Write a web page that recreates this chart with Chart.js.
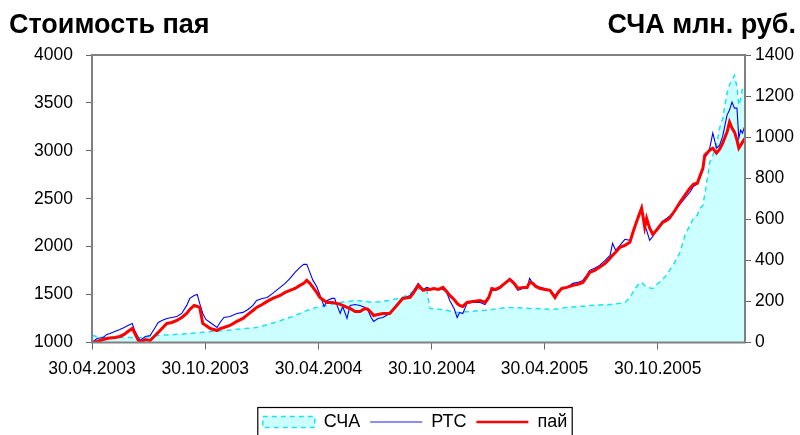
<!DOCTYPE html>
<html><head><meta charset="utf-8">
<script src="https://cdn.jsdelivr.net/npm/chart.js@4.4.1/dist/chart.umd.min.js"></script>
<style>html,body{margin:0;padding:0;background:#fff}</style>
</head><body>
<canvas id="c" width="800" height="435"></canvas>
<script>
const leftTitle = 'Стоимость пая';
const rightTitle = 'СЧА млн. руб.';
const seriesNames = ['СЧА', 'РТС', 'пай'];
const xTickLabels = ['30.04.2003','30.10.2003','30.04.2004','30.10.2004','30.04.2005','30.10.2005'];

const dates = [
'30.04.2003','08.05.2003','18.05.2003','24.05.2003','29.05.2003','06.06.2003','14.06.2003','21.06.2003','27.06.2003','04.07.2003',
'08.07.2003','13.07.2003','17.07.2003','25.07.2003','02.08.2003','10.08.2003','15.08.2003','21.08.2003','29.08.2003','06.09.2003',
'14.09.2003','22.09.2003','30.09.2003','05.10.2003','12.10.2003','17.10.2003','21.10.2003','26.10.2003','31.10.2003','07.11.2003',
'18.11.2003','23.11.2003','29.11.2003','09.12.2003','20.12.2003','30.12.2003','07.01.2004','15.01.2004','21.01.2004','30.01.2004',
'07.02.2004','16.02.2004','28.02.2004','07.03.2004','15.03.2004','23.03.2004','31.03.2004','06.04.2004','11.04.2004','16.04.2004',
'21.04.2004','27.04.2004','02.05.2004','09.05.2004','14.05.2004','22.05.2004','26.05.2004','30.05.2004','04.06.2004','08.06.2004',
'15.06.2004','20.06.2004','28.06.2004','06.07.2004','14.07.2004','19.07.2004','24.07.2004','28.07.2004','04.08.2004','12.08.2004',
'23.08.2004','02.09.2004','13.09.2004','25.09.2004','01.10.2004','08.10.2004','16.10.2004','22.10.2004','27.10.2004','02.11.2004',
'10.11.2004','17.11.2004','23.11.2004','28.11.2004','05.12.2004','10.12.2004','14.12.2004','19.12.2004','26.12.2004','04.01.2005',
'16.01.2005','24.01.2005','30.01.2005','04.02.2005','10.02.2005','17.02.2005','25.02.2005','05.03.2005','12.03.2005','18.03.2005',
'26.03.2005','02.04.2005','06.04.2005','11.04.2005','16.04.2005','23.04.2005','01.05.2005','09.05.2005','17.05.2005','22.05.2005',
'28.05.2005','05.06.2005','15.06.2005','23.06.2005','01.07.2005','07.07.2005','12.07.2005','20.07.2005','28.07.2005','06.08.2005',
'14.08.2005','18.08.2005','23.08.2005','30.08.2005','07.09.2005','15.09.2005','20.09.2005','25.09.2005','29.09.2005','04.10.2005',
'09.10.2005','12.10.2005','17.10.2005','22.10.2005','28.10.2005','02.11.2005','07.11.2005','14.11.2005','18.11.2005','27.11.2005',
'05.12.2005','13.12.2005','21.12.2005','27.12.2005','02.01.2006','06.01.2006','11.01.2006','14.01.2006','19.01.2006','22.01.2006',
'27.01.2006','02.02.2006','07.02.2006','12.02.2006','19.02.2006','23.02.2006','27.02.2006','03.03.2006','07.03.2006','10.03.2006',
'13.03.2006','16.03.2006','20.03.2006'
];

const paiValues = [
1000,1010,1031,1042,1046,1052,1063,1084,1115,1146,
1099,1031,1000,1031,1021,1073,1105,1146,1199,1209,
1230,1261,1303,1345,1387,1376,1366,1199,1178,1146,
1125,1146,1157,1178,1220,1251,1293,1334,1366,1397,
1429,1460,1491,1523,1544,1564,1596,1617,1648,1617,
1575,1523,1470,1439,1418,1418,1412,1408,1397,1387,
1366,1355,1324,1324,1355,1345,1314,1282,1293,1303,
1303,1376,1460,1470,1523,1596,1544,1554,1554,1564,
1554,1575,1533,1491,1449,1408,1387,1376,1418,1429,
1439,1418,1470,1564,1554,1575,1617,1658,1617,1564,
1575,1575,1627,1617,1585,1564,1554,1544,1470,1523,
1564,1575,1596,1606,1627,1679,1732,1753,1784,1826,
1878,1909,1941,1993,2014,2045,2150,2244,2317,2401,
2202,2296,2192,2129,2171,2213,2254,2275,2296,2380,
2463,2537,2610,2652,2662,2735,2819,2955,2986,3007,
3028,2976,3017,3080,3195,3300,3237,3195,3112,3028,
3059,3091,3132
];

const rtsValues = [
1000,1042,1052,1084,1094,1115,1136,1157,1178,1199,
1125,1063,1021,1063,1073,1157,1209,1230,1251,1261,
1272,1303,1387,1460,1491,1502,1408,1303,1240,1209,
1157,1209,1261,1272,1303,1314,1345,1387,1439,1460,
1470,1512,1575,1617,1669,1732,1784,1815,1815,1732,
1648,1585,1502,1376,1439,1460,1460,1387,1303,1376,
1251,1387,1397,1387,1366,1334,1261,1220,1251,1261,
1303,1387,1460,1491,1544,1617,1554,1575,1564,1564,
1564,1554,1523,1439,1355,1261,1314,1303,1408,1418,
1418,1397,1460,1544,1544,1564,1617,1669,1606,1544,
1564,1564,1669,1617,1596,1575,1564,1544,1491,1512,
1564,1575,1617,1627,1648,1700,1753,1774,1805,1857,
1909,2035,1962,2014,2077,2066,2150,2244,2328,2422,
2223,2171,2066,2108,2171,2223,2265,2296,2317,2380,
2443,2505,2568,2631,2652,2714,2798,2923,2976,3028,
3185,3028,3059,3153,3373,3425,3509,3446,3446,3132,
3216,3185,3268
];

const schaValues = [
34,29,24,24,24,24,24,24,24,24,
24,24,24,27,29,33,34,36,37,38,
40,41,43,44,46,47,48,50,51,53,
56,57,59,61,64,67,69,71,73,80,
87,95,106,115,122,132,141,150,156,160,
165,171,174,179,182,187,190,192,195,197,
199,201,204,203,200,198,196,196,198,201,
205,212,220,239,249,259,268,254,166,164,
162,161,157,153,148,146,147,149,150,152,
155,157,160,161,163,166,170,170,169,169,
168,167,166,166,165,164,163,161,162,164,
167,171,173,175,177,178,180,181,183,184,
185,187,189,191,194,220,244,268,285,293,
278,268,266,263,281,294,307,332,351,393,
439,522,571,607,620,652,668,722,815,878,
912,961,1044,1090,1215,1254,1278,1300,1244,1156,
1185,1239,1229
];

const FONT = '"Liberation Sans", Arial, sans-serif';
function toDay(s) {
  const p = s.split('.').map(Number);
  return (Date.UTC(p[2], p[1] - 1, p[0]) - Date.UTC(2003, 3, 30)) / 86400000;
}
const xDays = dates.map(toDay);
const tickDays = xTickLabels.map(toDay);
const pts = vals => vals.map((v, i) => ({ x: xDays[i], y: v }));

const decorPlugin = {
  id: 'decor',
  afterDatasetsDraw(chart) {
    const { ctx, chartArea: a } = chart;
    ctx.save();
    ctx.strokeStyle = '#808080';
    ctx.lineWidth = 2;
    ctx.strokeRect(a.left, a.top, a.right - a.left, a.bottom - a.top);
    ctx.restore();
  },
  afterDraw(chart) {
    const ctx = chart.ctx;
    ctx.save();
    ctx.fillStyle = '#000';
    ctx.font = 'bold 27px ' + FONT;
    ctx.textBaseline = 'alphabetic';
    ctx.textAlign = 'left';
    ctx.fillText(leftTitle, 9, 33);
    ctx.textAlign = 'right';
    ctx.fillText(rightTitle, 796, 33);
    const lg = chart.legend;
    if (lg && lg.legendHitBoxes && lg.legendHitBoxes.length) {
      const hb = lg.legendHitBoxes;
      const l = Math.min(...hb.map(b => b.left)) - 5;
      const r = Math.max(...hb.map(b => b.left + b.width)) + 5;
      ctx.strokeStyle = '#000';
      ctx.lineWidth = 1.2;
      ctx.strokeRect(l, lg.top + 4.5, r - l, 40);
    }
    ctx.restore();
  }
};

new Chart(document.getElementById('c'), {
  type: 'line',
  data: {
    datasets: [
      { label: seriesNames[0], data: pts(schaValues), yAxisID: 'y1', borderColor: '#19E3F0', backgroundColor: '#CCFFFF',
        fill: 'origin', borderWidth: 1.5, borderDash: [5, 4], pointRadius: 0, tension: 0, order: 3 },
      { label: seriesNames[1], data: pts(rtsValues), yAxisID: 'y', borderColor: '#0000FF', backgroundColor: '#0000FF',
        fill: false, borderWidth: 1.1, pointRadius: 0, tension: 0, order: 2 },
      { label: seriesNames[2], data: pts(paiValues), yAxisID: 'y', borderColor: '#FF0000', backgroundColor: '#FF0000',
        fill: false, borderWidth: 3, pointRadius: 0, tension: 0, order: 1 }
    ]
  },
  options: {
    responsive: false,
    animation: false,
    devicePixelRatio: 1,
    layout: { padding: { left: 30, right: 0, top: 55, bottom: -6 } },
    plugins: {
      tooltip: { enabled: false },
      title: { display: false },
      legend: {
        display: true,
        position: 'bottom',
        labels: {
          usePointStyle: true,
          pointStyleWidth: 52,
          boxHeight: 11,
          padding: 10,
          color: '#000',
          font: { family: FONT, size: 18 },
          generateLabels: (chart) => chart.data.datasets.map((ds, i) => ({
            text: ds.label,
            datasetIndex: i,
            fillStyle: i === 0 ? '#CCFFFF' : ds.borderColor,
            strokeStyle: i === 1 ? '#6666FF' : ds.borderColor,
            lineWidth: i === 0 ? 1.5 : (i === 1 ? 1.5 : 2.5),
            lineDash: i === 0 ? [5, 4] : [],
            pointStyle: i === 0 ? 'rect' : 'line',
            hidden: false,
            fontColor: '#000'
          }))
        }
      }
    },
    scales: {
      x: {
        type: 'linear',
        min: 0,
        max: xDays[xDays.length - 1],
        afterBuildTicks: s => { s.ticks = tickDays.map(v => ({ value: v })); },
        afterFit: s => { s.height = 60.5; },
        ticks: {
          autoSkip: false, maxRotation: 0, padding: 9.5, color: '#000',
          font: { family: FONT, size: 17.5 },
          callback: v => { const i = tickDays.indexOf(v); return i >= 0 ? xTickLabels[i] : ''; }
        },
        grid: { drawOnChartArea: false, drawTicks: true, tickLength: 7, color: '#666' },
        border: { display: false }
      },
      y: {
        position: 'left',
        min: 1000, max: 4000,
        afterFit: s => { s.width = 62; },
        ticks: { stepSize: 500, padding: 13, color: '#000', font: { family: FONT, size: 17.5 },
          callback: v => String(v) },
        grid: { drawOnChartArea: false, drawTicks: true, tickLength: 6, color: '#666' },
        border: { display: false }
      },
      y1: {
        position: 'right',
        min: 0, max: 1400,
        afterFit: s => { s.width = 55; },
        ticks: { stepSize: 200, padding: 4, color: '#000', font: { family: FONT, size: 17.5 },
          callback: v => String(v) },
        grid: { drawOnChartArea: false, drawTicks: true, tickLength: 6, color: '#666' },
        border: { display: false }
      }
    }
  },
  plugins: [decorPlugin]
});
</script>
</body></html>
